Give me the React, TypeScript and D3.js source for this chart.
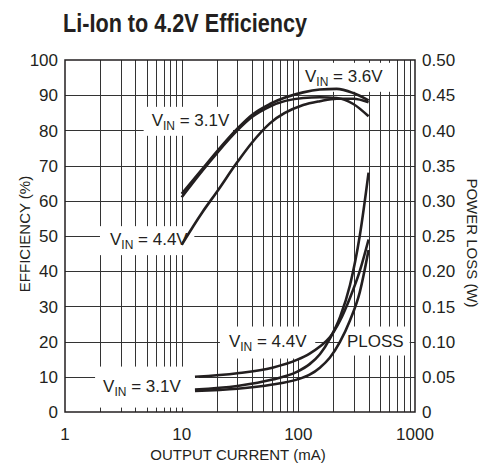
import { useEffect, useRef } from 'react';
import * as d3 from 'd3';

// output current (mA) for each series
const effCurrent = [10, 15, 20, 30, 40, 57, 110, 153, 213, 296, 400];
const eff31 = [61, 68.5, 73.5, 80, 83.8, 86.8, 89.2, 89.4, 89.2, 87.5, 84];
const eff36 = [62, 69, 74, 80.5, 84.4, 87.5, 90.8, 91.6, 91.8, 90.6, 88.5];
const eff44 = [47.5, 56.7, 62.5, 71, 76.5, 82, 87.2, 88.3, 89, 89, 88];

const lossCurrent = [13, 30, 60, 97, 125, 153, 186, 228, 277, 336, 400];
const loss31 = [0.032, 0.037, 0.046, 0.057, 0.068, 0.082, 0.104, 0.135, 0.18, 0.25, 0.34];
const loss44 = [0.05, 0.055, 0.063, 0.074, 0.083, 0.093, 0.106, 0.13, 0.162, 0.2, 0.245];
const loss36 = [0.03, 0.033, 0.039, 0.046, 0.053, 0.063, 0.077, 0.1, 0.13, 0.17, 0.23];

const xTicks = [1, 10, 100, 1000];
const yTicks = [0, 10, 20, 30, 40, 50, 60, 70, 80, 90, 100];
const yRightTicks = ['0', '0.05', '0.10', '0.15', '0.20', '0.25', '0.30', '0.35', '0.40', '0.45', '0.50'];

// annotation anchors in data units (mA, %)
const labels = [
  { x: 5.53, y: 81.3, v: '3.1V', pad: [8, 3, 4, 3] },
  { x: 114, y: 93.8, v: '3.6V', pad: [5, 7, 4, 3] },
  { x: 2.43, y: 47.4, v: '4.4V', pad: [10, 6, 4, 3] },
  { x: 2.12, y: 5.8, v: '3.1V', pad: [8, 17, 10, 9] },
  { x: 25.4, y: 18.6, v: '4.4V', pad: [9, 8, 5, 5] },
  { x: 261, y: 18.6, v: null, pad: [7, 6, 5, 5] },
];

const FONT = "'Liberation Sans', Arial, Helvetica, sans-serif";
const INK = '#231f20';

export default function App() {
  const svgRef = useRef<SVGSVGElement>(null);

  useEffect(() => {
    if (!svgRef.current) return;
    const svg = d3.select(svgRef.current);
    svg.selectAll('*').remove();

    const left = 65, right = 415, top = 60, bottom = 412;
    const x = d3.scaleLog().domain([1, 1000]).range([left, right]);
    const y = d3.scaleLinear().domain([0, 100]).range([bottom, top]);
    const yR = d3.scaleLinear().domain([0, 0.5]).range([bottom, top]);

    svg.append('rect').attr('width', 481).attr('height', 467).attr('fill', '#fff');

    svg.append('text')
      .attr('x', 63).attr('y', 32)
      .attr('font-family', FONT).attr('font-weight', 'bold').attr('font-size', 26)
      .attr('textLength', 244).attr('lengthAdjust', 'spacingAndGlyphs')
      .attr('fill', INK)
      .text('Li-Ion to 4.2V Efficiency');

    const grid = svg.append('g').attr('stroke', '#333').attr('stroke-width', 1);
    const minor: number[] = [];
    for (let d = 1; d < 1000; d *= 10) for (let k = 2; k <= 10; k++) minor.push(d * k);
    grid.selectAll('line.v')
      .data(minor.filter(v => v < 1000))
      .join('line')
      .attr('x1', d => Math.round(x(d)) + 0.5).attr('x2', d => Math.round(x(d)) + 0.5)
      .attr('y1', top).attr('y2', bottom);
    grid.selectAll('line.h')
      .data(yTicks.slice(1, -1))
      .join('line')
      .attr('class', 'h')
      .attr('x1', left).attr('x2', right)
      .attr('y1', d => Math.round(y(d)) + 0.5).attr('y2', d => Math.round(y(d)) + 0.5);

    // label boxes + text
    const ann = svg.append('g').attr('font-family', FONT).attr('fill', INK);
    labels.forEach(l => {
      const t = ann.append('text').attr('x', x(l.x)).attr('y', y(l.y)).attr('font-size', 17);
      if (l.v) {
        t.append('tspan').text('V');
        t.append('tspan').attr('font-size', 12).attr('dy', 4).text('IN');
        t.append('tspan').attr('dy', -4).text(` = ${l.v}`);
      } else {
        t.text('PLOSS');
      }
      const b = (t.node() as SVGTextElement).getBBox();
      ann.insert('rect', () => t.node())
        .attr('x', b.x - l.pad[0]).attr('y', b.y - l.pad[2])
        .attr('width', b.width + l.pad[0] + l.pad[1])
        .attr('height', b.height + l.pad[2] + l.pad[3])
        .attr('fill', '#fff');
    });

    svg.append('rect')
      .attr('x', left).attr('y', top).attr('width', right - left).attr('height', bottom - top)
      .attr('fill', 'none').attr('stroke', INK).attr('stroke-width', 1.5);

    const effLine = d3.line<number>()
      .x((_, i) => x(effCurrent[i])).y(d => y(d)).curve(d3.curveMonotoneX);
    const lossLine = d3.line<number>()
      .x((_, i) => x(lossCurrent[i])).y(d => yR(d)).curve(d3.curveMonotoneX);

    const curves = svg.append('g').attr('fill', 'none').attr('stroke', INK)
      .attr('stroke-width', 2.6).attr('stroke-linecap', 'butt');
    [eff31, eff36, eff44].forEach(s => curves.append('path').attr('d', effLine(s)));
    [loss31, loss44, loss36].forEach(s => curves.append('path').attr('d', lossLine(s)));

    const ticks = svg.append('g').attr('font-family', FONT).attr('font-size', 17).attr('fill', INK);
    ticks.selectAll('text.l').data(yTicks).join('text')
      .attr('class', 'l')
      .attr('x', 58).attr('y', d => y(d)).attr('dy', '0.36em').attr('text-anchor', 'end')
      .text(d => d);
    ticks.selectAll('text.r').data(yRightTicks).join('text')
      .attr('class', 'r')
      .attr('x', 422).attr('y', d => yR(+d)).attr('dy', '0.36em')
      .text(d => d);
    ticks.selectAll('text.b').data(xTicks).join('text')
      .attr('class', 'b')
      .attr('x', d => x(d)).attr('y', 440).attr('text-anchor', 'middle')
      .text(d => d);

    const titles = svg.append('g').attr('font-family', FONT).attr('font-size', 15).attr('fill', INK)
      .attr('text-anchor', 'middle');
    titles.append('text').attr('x', 238).attr('y', 460).text('OUTPUT CURRENT (mA)');
    titles.append('text').attr('transform', 'translate(30,234) rotate(-90)').text('EFFICIENCY (%)');
    titles.append('text').attr('transform', 'translate(467,243) rotate(90)').text('POWER LOSS (W)');
  }, []);

  return (
    <svg ref={svgRef} width={481} height={467}
      style={{ position: 'absolute', left: 0, top: 0, display: 'block' }} />
  );
}
